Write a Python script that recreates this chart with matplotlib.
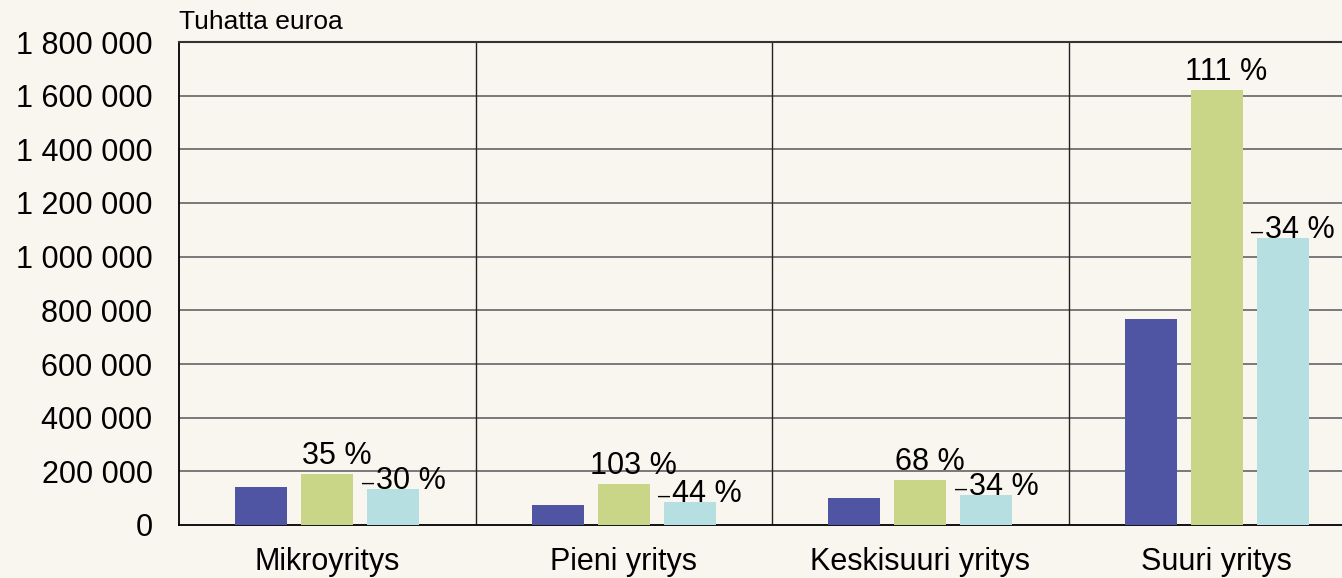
import matplotlib.pyplot as plt
import numpy as np

categories = ["Mikroyritys", "Pieni yritys", "Keskisuuri yritys", "Suuri yritys"]
series_a = [141000, 75000, 100000, 768000]
series_b = [190000, 153000, 168000, 1620000]
series_c = [133000, 86000, 110000, 1068000]
labels_b = ["35 %", "103 %", "68 %", "111 %"]
labels_c = ["\u208b30 %", "\u208b44 %", "\u208b34 %", "\u208b34 %"]
yticks = [0, 200000, 400000, 600000, 800000, 1000000, 1200000, 1400000, 1600000, 1800000]

bg = "#f9f5ef"
colors = ["#4f54a3", "#c9d687", "#b6dfe2"]

plt.rcParams["font.family"] = ["Liberation Sans", "DejaVu Sans"]

fig = plt.figure(figsize=(13.42, 5.78), dpi=100, facecolor=bg)
ax = fig.add_axes([179 / 1342, 1 - 525 / 578, (1365 - 179) / 1342, (525 - 42) / 578])
ax.set_facecolor(bg)

x = np.arange(len(categories))
off = 0.222
w = 0.175
ax.bar(x - off, series_a, w, color=colors[0], zorder=3)
bars_b = ax.bar(x, series_b, w, color=colors[1], zorder=3)
bars_c = ax.bar(x + off, series_c, w, color=colors[2], zorder=3)

for b, t in zip(bars_b, labels_b):
    ax.annotate(t, (b.get_x() + b.get_width() / 2, b.get_height()), xytext=(7, 13),
                textcoords="offset points", ha="center", va="center", fontsize=22, zorder=4)
for b, t in zip(bars_c, labels_c):
    ax.annotate(t, (b.get_x() + b.get_width() / 2, b.get_height()), xytext=(7, 6),
                textcoords="offset points", ha="center", va="center", fontsize=22, zorder=4)

ax.set_xlim(-0.5, 3.5)
ax.set_ylim(0, 1800000)
ax.set_yticks(yticks)
ax.set_yticklabels([f"{v:,}".replace(",", " ") for v in yticks])
ax.set_xticks(x)
ax.set_xticklabels(categories)
ax.tick_params(axis="both", length=0, labelsize=22)
ax.tick_params(axis="y", pad=19)
ax.tick_params(axis="x", pad=16)

for yv in yticks[1:-1]:
    ax.axhline(yv, color="#707070", lw=1.3, zorder=1)
for xv in [0.5, 1.5, 2.5]:
    ax.axvline(xv, color="#222222", lw=1.0, zorder=1)

for s in ["left", "bottom"]:
    ax.spines[s].set_color("black")
    ax.spines[s].set_linewidth(1.3)
ax.spines["top"].set_color("#333333")
ax.spines["top"].set_linewidth(1.5)
ax.spines["right"].set_visible(False)

fig.text(179 / 1342, 1 - 22 / 578, "Tuhatta euroa", fontsize=19, ha="left", va="center")

fig.savefig("out.png", dpi=100, facecolor=bg)
